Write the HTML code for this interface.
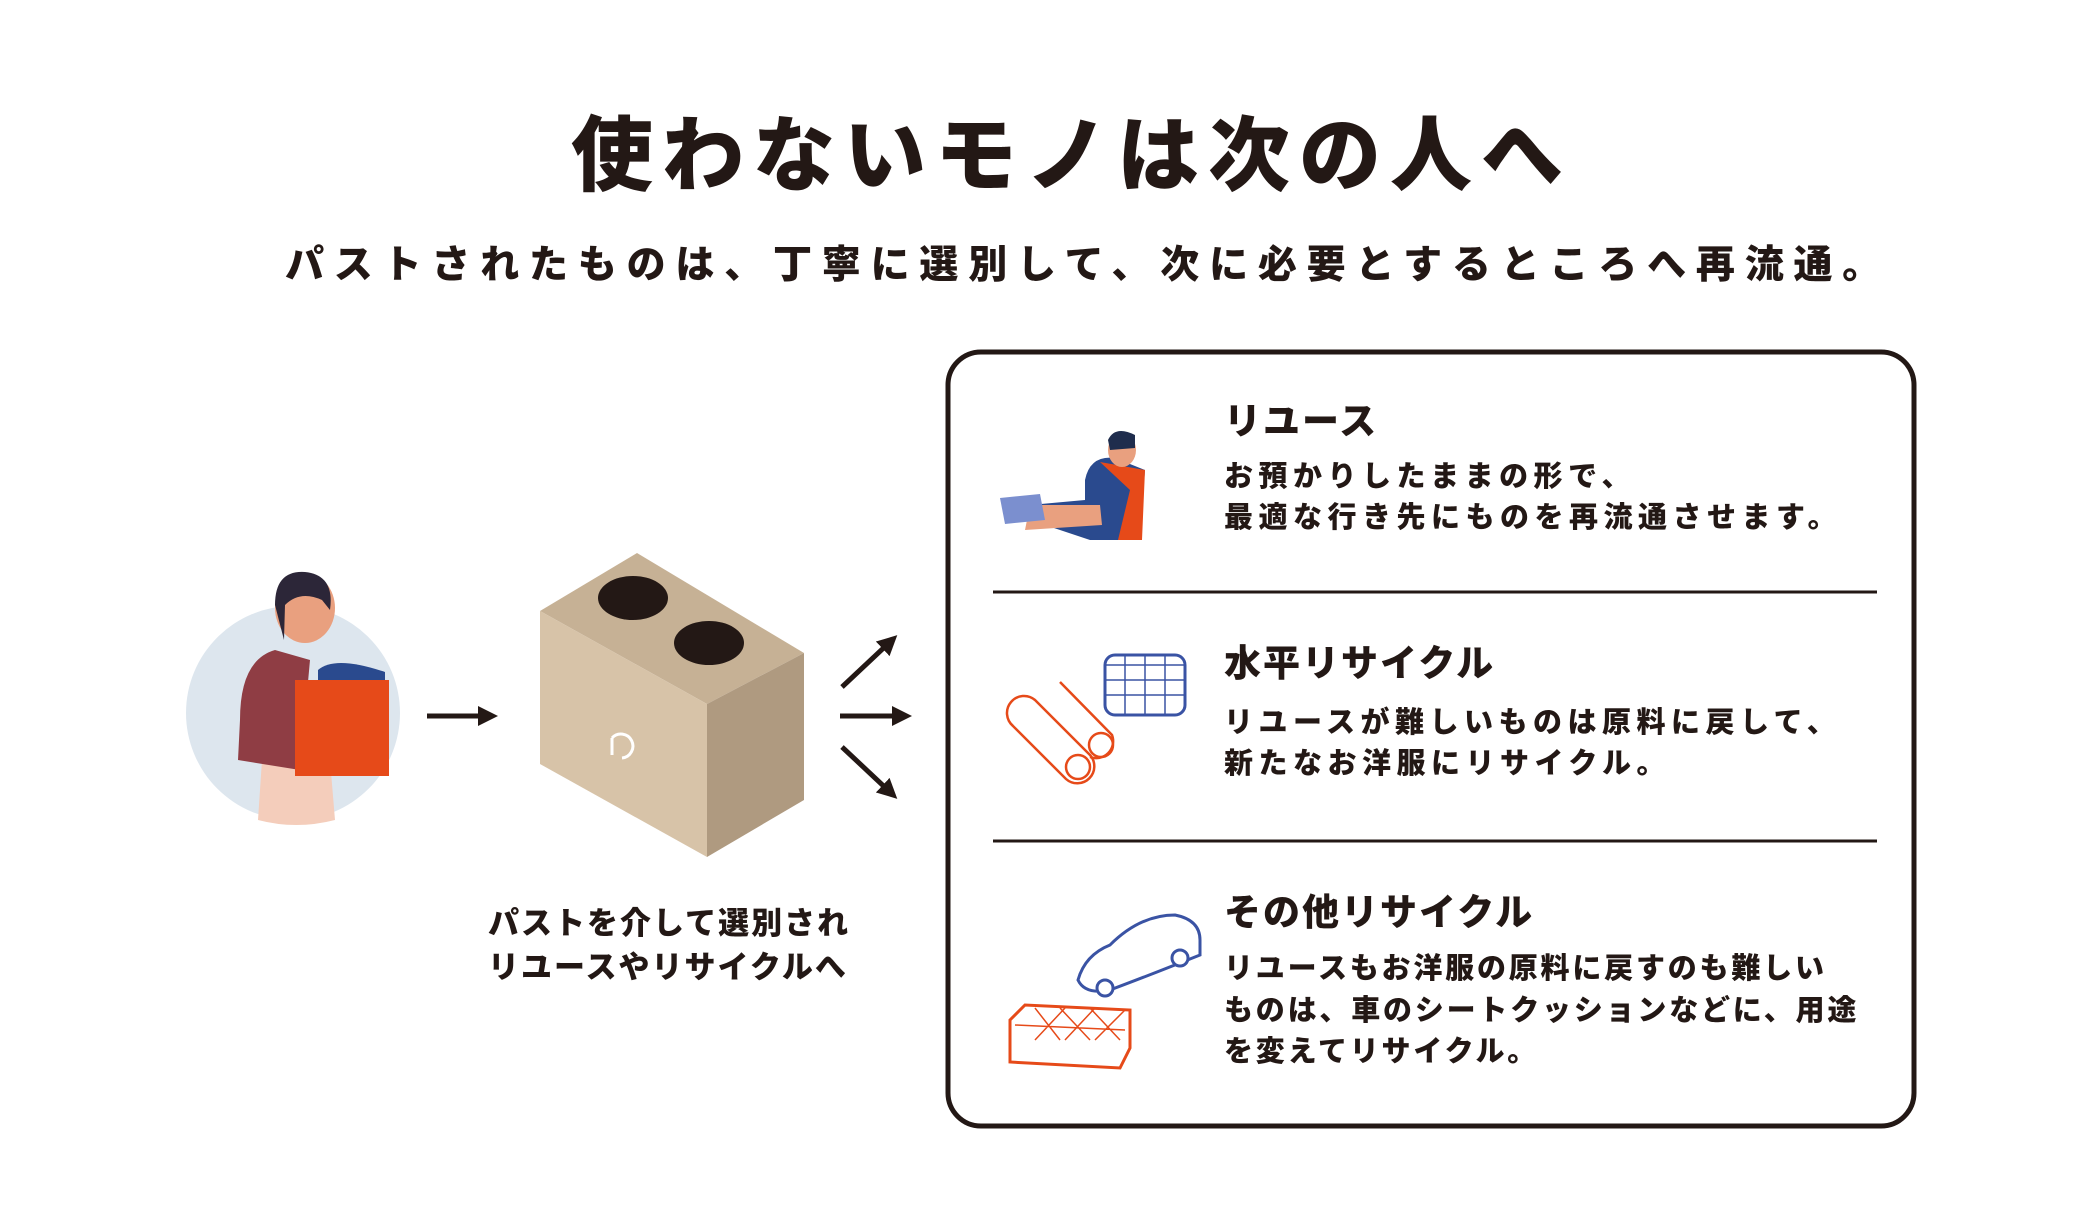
<!DOCTYPE html>
<html><head><meta charset="utf-8">
<style>
body{margin:0;width:2080px;height:1220px;background:#fff;position:relative;overflow:hidden;font-family:"Liberation Sans","Noto Sans CJK JP",sans-serif;color:#231815;font-weight:bold}
.t{position:absolute;white-space:nowrap}
.b{font-weight:900}
</style></head><body>
<div class="t" style="left:571px;top:89px;font-size:82px;letter-spacing:9px;font-weight:900">使わないモノは次の人へ</div>
<div class="t" style="left:285px;top:234px;font-size:39px;letter-spacing:9.8px;font-weight:900">パストされたものは、丁寧に選別して、次に必要とするところへ再流通。</div>

<svg style="position:absolute;left:0;top:0" width="2080" height="1220">
<defs><marker id="ah" markerWidth="4" markerHeight="4" refX="2" refY="2" orient="auto" markerUnits="strokeWidth"><path d="M0,0 L4,2 L0,4 Z" fill="#231815"/></marker></defs>
<rect x="948" y="352" width="966" height="774" rx="33" fill="none" stroke="#231815" stroke-width="5"/>
<line x1="993" y1="592" x2="1877" y2="592" stroke="#231815" stroke-width="3"/>
<line x1="993" y1="841" x2="1877" y2="841" stroke="#231815" stroke-width="3"/>
<!-- person -->
<circle cx="293" cy="713" r="107" fill="#dde6ee"/>
<path d="M258,820 L262,760 L330,760 L335,820 Q296,830 258,820Z" fill="#f4cdbb"/>
<path d="M275,650 Q240,660 240,720 L238,760 L300,770 L310,660Z" fill="#8f3d44"/>
<ellipse cx="305" cy="608" rx="30" ry="35" fill="#e9a07f"/>
<path d="M275,605 Q275,570 305,572 Q335,575 330,610 L322,600 Q300,590 285,605 L284,640 Z" fill="#2c2638"/>
<path d="M318,670 Q335,655 385,672 L385,690 L318,690Z" fill="#2a4a8e"/>
<rect x="295" y="680" width="94" height="96" fill="#e64a19"/>
<!-- arrow 1 -->
<line x1="427" y1="716" x2="488" y2="716" stroke="#231815" stroke-width="5" marker-end="url(#ah)"/>
<!-- bin -->
<polygon points="637,553 540,611 707,704 804,653" fill="#c6b195"/>
<polygon points="540,611 707,704 707,857 540,764" fill="#d7c3a8"/>
<polygon points="707,704 804,653 804,800 707,857" fill="#af9a80"/>
<ellipse cx="633" cy="598" rx="35" ry="22" fill="#231815"/>
<ellipse cx="709" cy="643" rx="35" ry="22" fill="#231815"/>
<path d="M612,738 a12,12 0 1 1 10,20" fill="none" stroke="#fff" stroke-width="3"/>
<line x1="612" y1="738" x2="612" y2="755" stroke="#fff" stroke-width="3"/>
<!-- out arrows -->
<line x1="842" y1="687" x2="890" y2="642" stroke="#231815" stroke-width="5" marker-end="url(#ah)"/>
<line x1="840" y1="716" x2="902" y2="716" stroke="#231815" stroke-width="5" marker-end="url(#ah)"/>
<line x1="842" y1="747" x2="890" y2="792" stroke="#231815" stroke-width="5" marker-end="url(#ah)"/>
<!-- reuse icon -->
<path d="M1085,480 Q1090,455 1115,458 L1145,470 L1140,540 L1090,540 L1030,520 L1030,505 L1085,500Z" fill="#2a4a8e"/>
<path d="M1100,462 L1145,470 L1142,540 L1118,540 L1130,490Z" fill="#e64a19"/>
<ellipse cx="1122" cy="450" rx="14" ry="17" fill="#e9a07f"/>
<path d="M1108,440 Q1115,425 1135,435 L1135,448 L1110,450Z" fill="#1f2d4d"/>
<path d="M1030,505 L1100,505 L1102,525 L1025,530Z" fill="#e9a07f"/>
<polygon points="1000,498 1040,494 1045,520 1005,524" fill="#7b8fcf"/>
<!-- rolls -->
<g fill="none" stroke="#e64a19" stroke-width="2.5">
<path d="M1035,700 L1090,755 A17,17 0 0 1 1066,779 L1013,726 A17,17 0 0 1 1035,700Z"/>
<path d="M1060,682 L1112,735 A17,17 0 0 1 1090,757"/>
<circle cx="1078" cy="767" r="12"/><circle cx="1101" cy="745" r="12"/>
</g>
<rect x="1105" y="655" width="80" height="60" rx="10" fill="#fff" stroke="#3a53a4" stroke-width="3"/>
<path d="M1105,665 L1185,665 M1105,680 L1185,680 M1105,695 L1185,695 M1125,655 L1125,715 M1145,655 L1145,715 M1165,655 L1165,715" stroke="#3a53a4" stroke-width="1.5"/>
<!-- car -->
<path d="M1078,980 Q1085,955 1110,945 Q1140,915 1175,915 Q1200,920 1200,940 L1200,955 Q1150,975 1110,990 Q1085,995 1078,980Z" fill="none" stroke="#3a53a4" stroke-width="3"/>
<circle cx="1105" cy="988" r="8" fill="#fff" stroke="#3a53a4" stroke-width="3"/>
<circle cx="1180" cy="958" r="8" fill="#fff" stroke="#3a53a4" stroke-width="3"/>
<!-- cushion -->
<path d="M1010,1020 L1025,1005 L1130,1010 L1130,1048 L1120,1068 L1010,1062Z" fill="#fff" stroke="#e64a19" stroke-width="3"/>
<path d="M1015,1025 L1125,1030 M1035,1008 L1060,1040 M1060,1008 L1090,1040 M1090,1008 L1120,1040 M1035,1040 L1065,1008 M1065,1040 L1095,1008 M1095,1040 L1125,1010" stroke="#e64a19" stroke-width="1.5"/>
</svg>

<div class="t b" style="left:488px;top:902px;font-size:31px;line-height:44px;letter-spacing:2px">パストを介して選別され<br>リユースやリサイクルへ</div>

<div class="t b" style="left:1224px;top:391px;font-size:37px;letter-spacing:2px">リユース</div>
<div class="t b" style="left:1224px;top:457px;font-size:29px;line-height:41px;letter-spacing:5.5px">お預かりしたままの形で、<br>最適な行き先にものを再流通させます。</div>

<div class="t b" style="left:1224px;top:633px;font-size:37px;letter-spacing:2px">水平リサイクル</div>
<div class="t b" style="left:1224px;top:703px;font-size:29px;line-height:41px;letter-spacing:5.5px">リユースが難しいものは原料に戻して、<br>新たなお洋服にリサイクル。</div>

<div class="t b" style="left:1224px;top:882px;font-size:37px;letter-spacing:2px">その他リサイクル</div>
<div class="t b" style="left:1224px;top:949px;font-size:29px;line-height:41.5px;letter-spacing:2.8px">リユースもお洋服の原料に戻すのも難しい<br>ものは、車のシートクッションなどに、用途<br>を変えてリサイクル。</div>
</body></html>
